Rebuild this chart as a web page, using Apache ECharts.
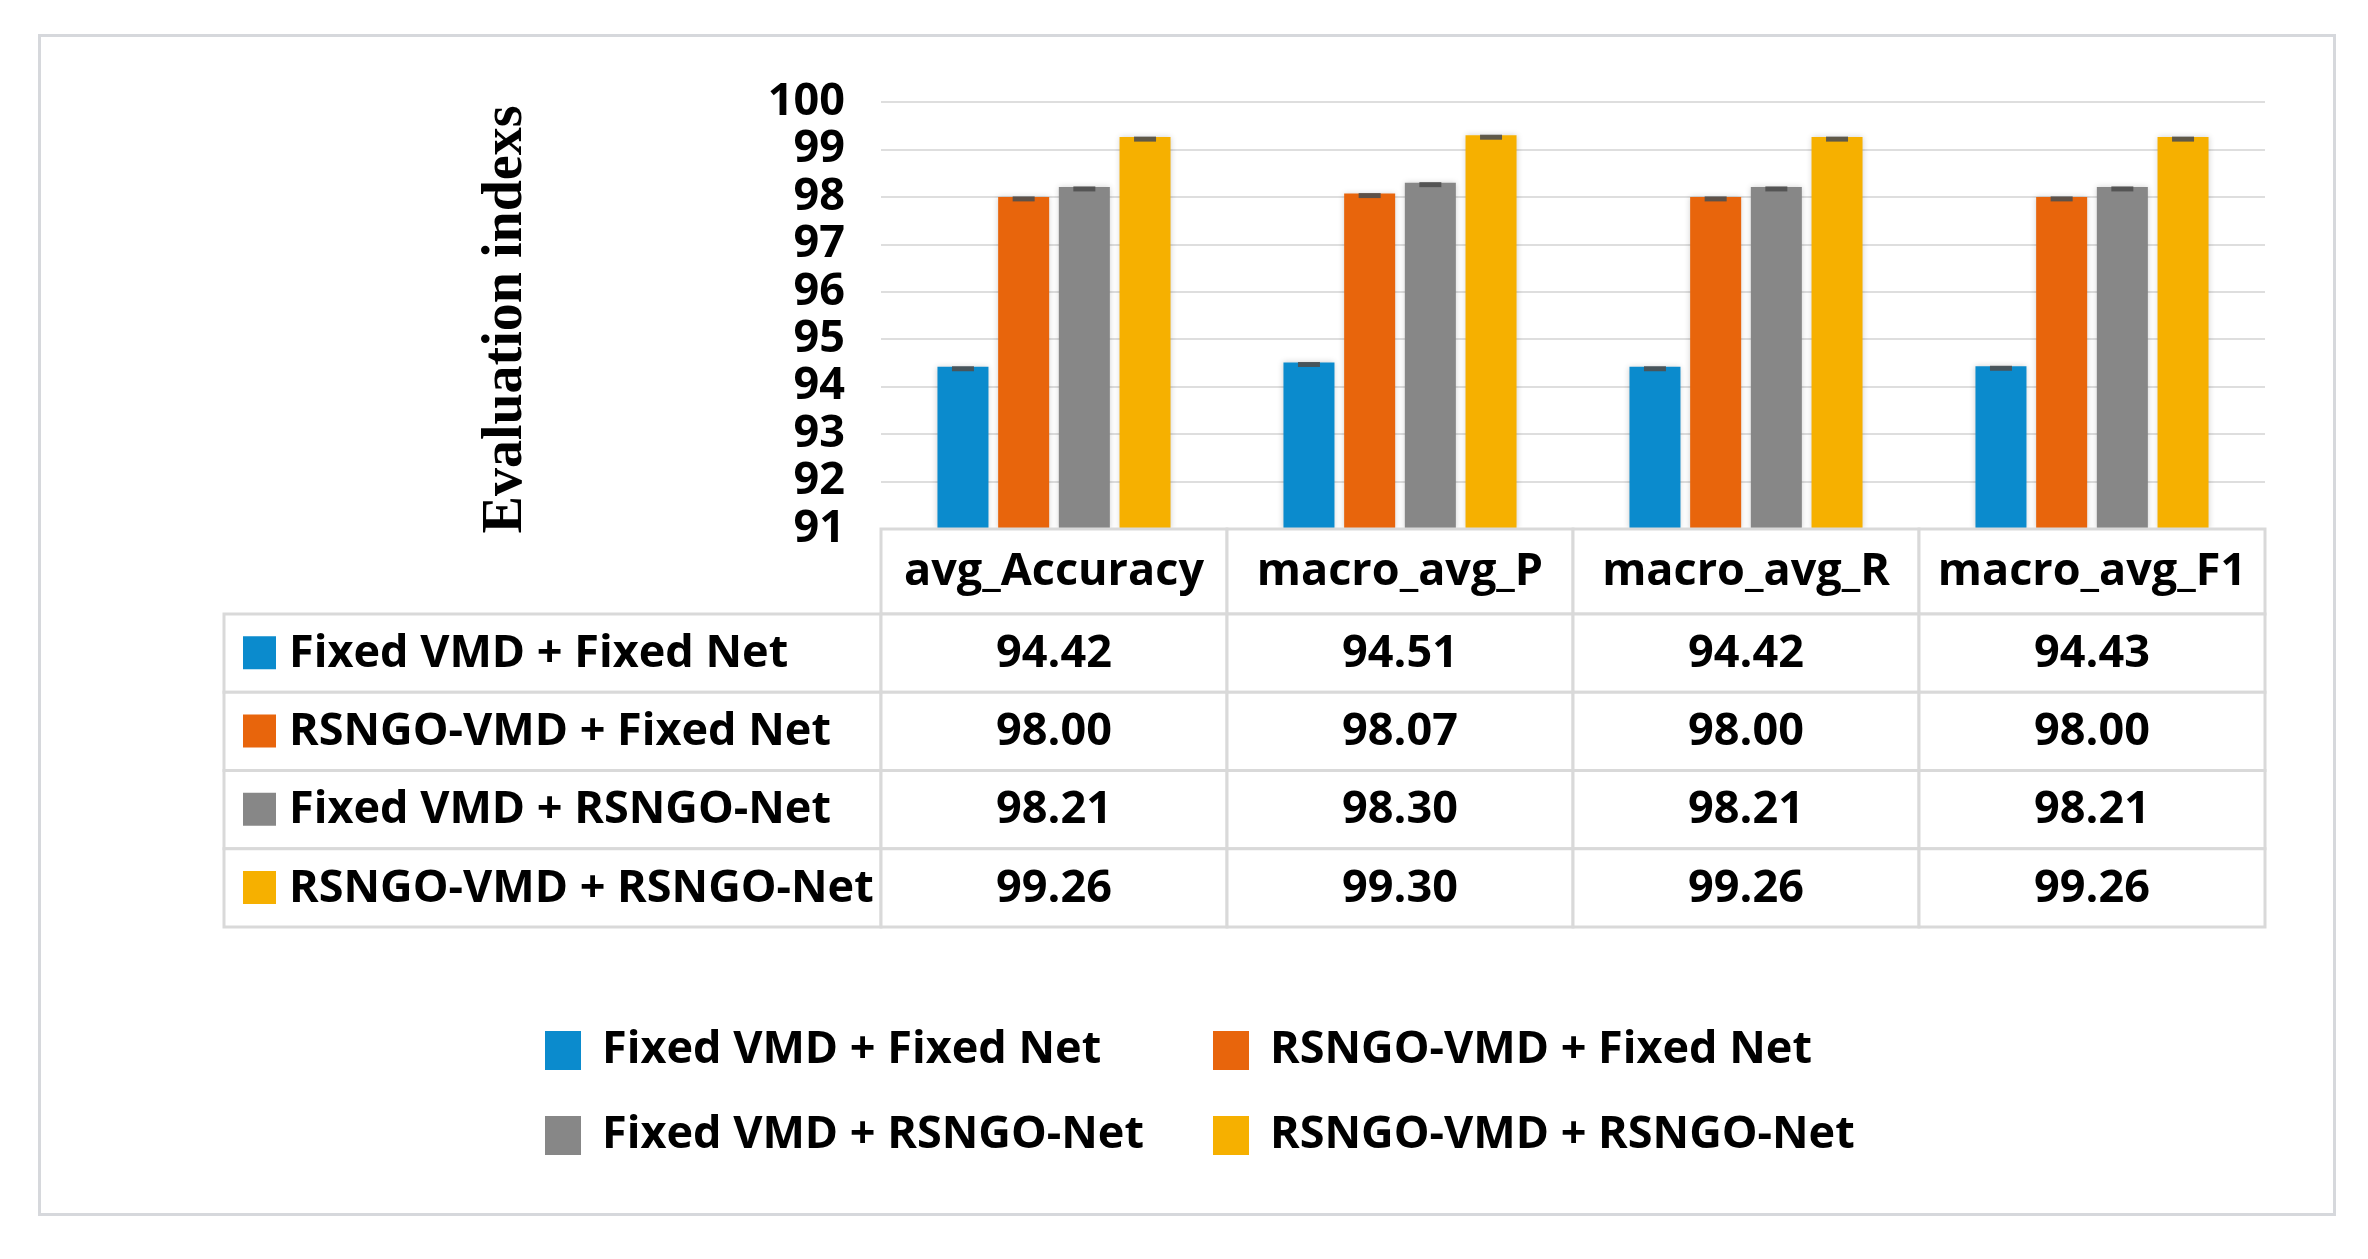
<!DOCTYPE html>
<html>
<head>
<meta charset="utf-8">
<script src="https://cdn.jsdelivr.net/npm/echarts@6/dist/echarts.min.js"></script>
<style>
html,body{margin:0;padding:0;background:#fff;}
#chart{width:2368px;height:1259px;}
</style>
</head>
<body>
<div id="chart"></div>
<script>
// ---- data ----
const categories = ['avg_Accuracy', 'macro_avg_P', 'macro_avg_R', 'macro_avg_F1'];
const seriesNames = ['Fixed VMD + Fixed Net', 'RSNGO-VMD + Fixed Net', 'Fixed VMD + RSNGO-Net', 'RSNGO-VMD + RSNGO-Net'];
const fixedVmdFixedNet = [94.42, 94.51, 94.42, 94.43];
const rsngoVmdFixedNet = [98.00, 98.07, 98.00, 98.00];
const fixedVmdRsngoNet = [98.21, 98.30, 98.21, 98.21];
const rsngoVmdRsngoNet = [99.26, 99.30, 99.26, 99.26];
const yTicks = [91, 92, 93, 94, 95, 96, 97, 98, 99, 100];
const axisTitle = 'Evaluation indexs';

// ---- styling ----
const colors = ['#0b8bcd', '#e8650c', '#878787', '#f6b000'];
const seriesValues = [fixedVmdFixedNet, rsngoVmdFixedNet, fixedVmdRsngoNet, rsngoVmdRsngoNet];
const FONT = 'Open Sans';
const FS = 45;
const BAR_W = 51, BAR_GAP = 0.19;
const TABLE_LEFT = 224;
const HEADER_H = 85;
const BORDER = '#d9d9d9';

const chart = echarts.init(document.getElementById('chart'), null, {renderer: 'canvas'});

// Table body cells (one row per series)
const cells = [];
seriesNames.forEach((n, si) => {
  cells.push({col: 0, row: si, text: n, kind: 'label', color: colors[si]});
  seriesValues[si].forEach((v, ci) => cells.push({col: ci, row: si, text: v.toFixed(2), kind: 'value'}));
});

function cellText(text, x, y, align) {
  return {type: 'text', style: {text: text, x: x, y: y, align: align, verticalAlign: 'middle',
    fontFamily: FONT, fontWeight: 'bold', fontSize: FS, fill: '#000'}};
}

function renderCell(params, api) {
  const cell = cells[params.dataIndex];
  const c = api.coord([api.value(0), api.value(1)]);
  const s = api.size([1, 1]);
  const cs = params.coordSys;
  const y0 = c[1] - s[1] / 2, h = s[1];
  const children = [];
  if (cell.kind === 'label') {
    const x0 = TABLE_LEFT, x1 = cs.x;
    children.push({type: 'rect', shape: {x: x0, y: y0, width: x1 - x0, height: h},
      style: {fill: '#fff', stroke: BORDER, lineWidth: 3}});
    children.push({type: 'rect', shape: {x: x0 + 19, y: c[1] - 17, width: 33, height: 33},
      style: {fill: cell.color}});
    children.push(cellText(cell.text, x0 + 65, c[1] + 1, 'left'));
  } else {
    const x0 = c[0] - s[0] / 2;
    children.push({type: 'rect', shape: {x: x0, y: y0, width: s[0], height: h},
      style: {fill: '#fff', stroke: BORDER, lineWidth: 3}});
    children.push(cellText(cell.text, c[0], c[1] + 1, 'center'));
  }
  return {type: 'group', children: children};
}

// Header cells sit just under the value axis baseline of the bar grid
const headerData = categories.map((c, ci) => [ci, yTicks[0]]);
function renderHeader(params, api) {
  const p = api.coord([api.value(0), api.value(1)]);
  const s = api.size([1, 0]);
  return {type: 'group', children: [
    {type: 'rect', shape: {x: p[0] - s[0] / 2, y: p[1], width: s[0], height: HEADER_H},
      style: {fill: '#fff', stroke: BORDER, lineWidth: 3}},
    cellText(categories[params.dataIndex], p[0], p[1] + HEADER_H / 2 + 1, 'center')
  ]};
}

// Error caps on bar tops
const capData = [];
seriesValues.forEach((vals, si) => vals.forEach((v, ci) => capData.push([ci, v, si])));
function renderCap(params, api) {
  const p = api.coord([api.value(0), api.value(1)]);
  const si = api.value(2);
  const step = BAR_W * (1 + BAR_GAP);
  const cx = p[0] + (si - 1.5) * step;
  return {type: 'rect', shape: {x: cx - 11, y: p[1] - 0.5, width: 22, height: 5},
    style: {fill: '#4f4f4f', opacity: 0.9}};
}

const barSeries = seriesNames.map((n, si) => ({
  name: n, type: 'bar', xAxisIndex: 0, yAxisIndex: 0,
  data: seriesValues[si], barWidth: BAR_W, barGap: (BAR_GAP * 100) + '%',
  itemStyle: {color: colors[si], shadowBlur: 6, shadowColor: 'rgba(0,0,0,0.18)'},
  z: 2
}));

const legendCommon = {orient: 'vertical', itemGap: 40, itemWidth: 36, itemHeight: 39, icon: 'rect',
  textStyle: {fontFamily: FONT, fontWeight: 'bold', fontSize: FS, color: '#000', padding: [0, 0, 0, 16]}};

const option = {
  backgroundColor: '#fff',
  animation: false,
  textStyle: {fontFamily: FONT},
  graphic: [{
    type: 'rect', left: 38, top: 34, z: -10,
    shape: {width: 2295, height: 1179},
    style: {fill: '#fff', stroke: '#d6d8dc', lineWidth: 3}
  }],
  grid: [
    {left: 881, right: 103, top: 102, height: 427},
    {left: 881, right: 103, top: 529 + HEADER_H, height: 313}
  ],
  xAxis: [
    {type: 'category', gridIndex: 0, data: categories,
      axisLabel: {show: false}, axisTick: {show: false}, axisLine: {show: false}},
    {type: 'category', gridIndex: 1, data: categories, show: false}
  ],
  yAxis: [
    {type: 'value', gridIndex: 0, min: yTicks[0], max: yTicks[yTicks.length - 1], interval: 1,
      axisLine: {show: false}, axisTick: {show: false},
      splitLine: {lineStyle: {color: '#dedede', width: 2}},
      axisLabel: {fontSize: FS, fontWeight: 'bold', color: '#000', margin: 36, fontFamily: FONT},
      name: axisTitle, nameLocation: 'middle', nameRotate: 90, nameGap: 346,
      nameTextStyle: {fontFamily: 'Liberation Serif', fontWeight: 'bold', fontSize: 56, color: '#000',
        padding: [0, 8, 0, 0]}},
    {type: 'category', gridIndex: 1, data: seriesNames, inverse: true, show: false}
  ],
  legend: [
    Object.assign({data: [seriesNames[0], seriesNames[2]], left: 540, top: 1023}, legendCommon),
    Object.assign({data: [seriesNames[1], seriesNames[3]], left: 1208, top: 1023}, legendCommon)
  ],
  series: barSeries.concat([
    {type: 'custom', name: 'errorCaps', xAxisIndex: 0, yAxisIndex: 0, data: capData,
      renderItem: renderCap, z: 5, silent: true},
    {type: 'custom', name: 'header', xAxisIndex: 0, yAxisIndex: 0, data: headerData,
      renderItem: renderHeader, z: 3, silent: true, clip: false},
    {type: 'custom', name: 'table', xAxisIndex: 1, yAxisIndex: 1,
      data: cells.map(c => [c.col, c.row]), renderItem: renderCell, z: 3, silent: true, clip: false}
  ])
};
chart.setOption(option);
</script>
</body>
</html>
